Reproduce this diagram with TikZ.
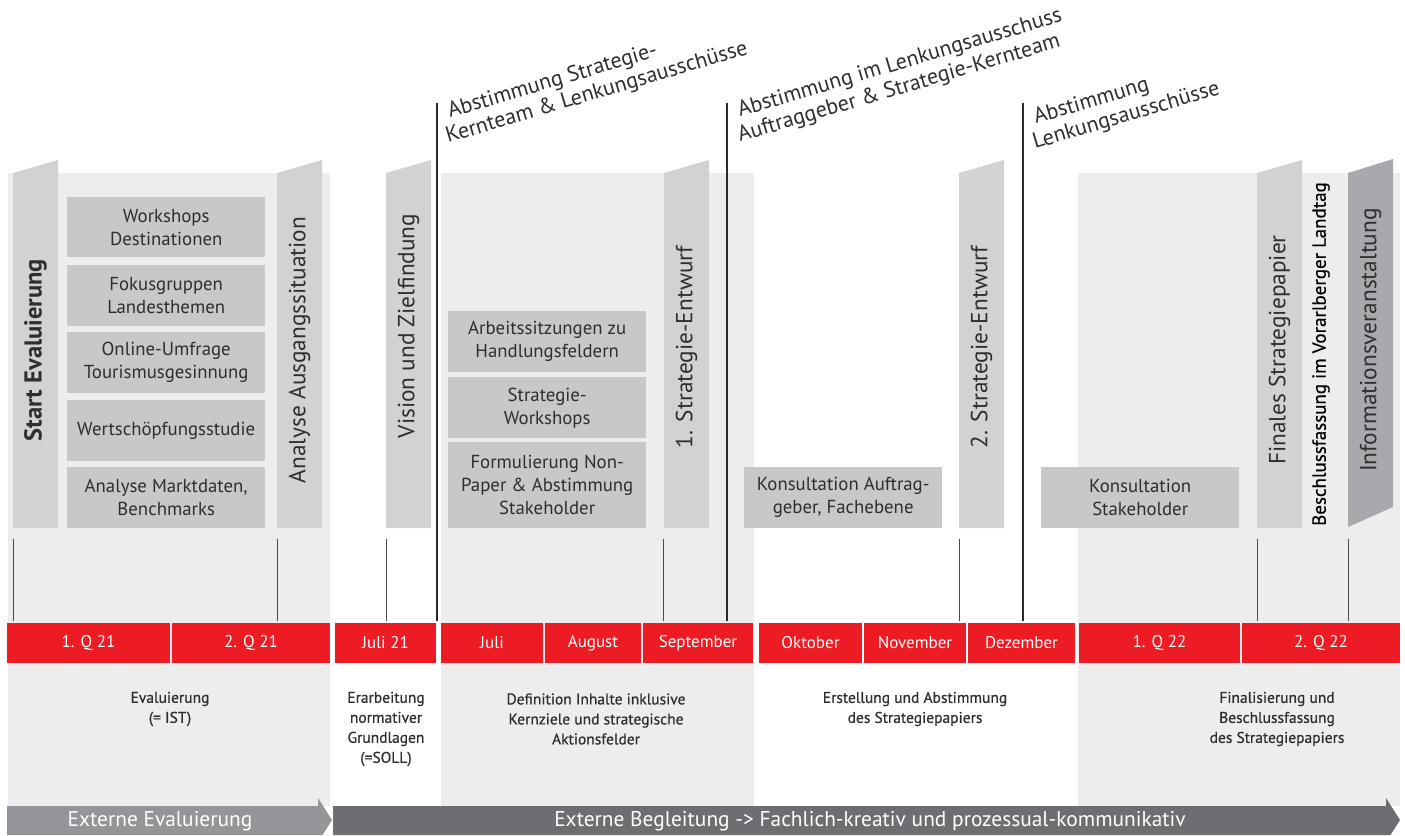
\documentclass[tikz,border=0pt]{standalone}
\usepackage{fontspec}
\setmainfont{PT Sans}
\newfontfamily\semib[FakeBold=0.6]{PT Sans}
\definecolor{lg}{HTML}{EDEDED}
\definecolor{barc}{HTML}{D1D2D4}
\definecolor{boxc}{HTML}{C7C8CA}
\definecolor{darkbar}{HTML}{A7A9AC}
\definecolor{tred}{HTML}{ED1C24}
\definecolor{txt}{HTML}{2E2E30}
\definecolor{tickc}{HTML}{4A4A4C}
\definecolor{linec}{HTML}{2A2A2C}
\definecolor{arrA}{HTML}{939598}
\definecolor{arrB}{HTML}{6D6E71}
\tikzset{
  itembox/.style={fill=boxc, minimum width=198pt, inner sep=0pt, align=center, text=txt, font=\fontsize{18.8}{23}\selectfont, anchor=north west},
  barlabel/.style={rotate=90, inner sep=0pt, text=txt, font=\fontsize{23.3}{27}\selectfont},
  tickline/.style={draw=tickc, line width=0.8pt},
  milestone/.style={draw=linec, line width=1.1pt},
  redseg/.style={fill=tred, text=white, inner sep=0pt, minimum height=40pt, font=\fontsize{17}{20}\selectfont},
  desc/.style={align=center, inner sep=0pt, text=txt, font=\semib\fontsize{15.5}{20}\selectfont},
  toplabel/.style={rotate=16.5, anchor=base west, inner sep=0pt, text=txt, font=\fontsize{22}{25}\selectfont},
  arrowtext/.style={text=white, inner sep=0pt, font=\fontsize{21.4}{24}\selectfont}
}
\newcommand\slantbar[2][barc]{\fill[#1] (#2,173) -- ++(45,-13) -- ++(0,368) -- ++(-45,0) -- cycle;}
\begin{document}
\begin{tikzpicture}[x=1pt,y=-1pt]
\useasboundingbox (0,0) rectangle (1405,835);
% light panels
\fill[lg] (8,173) rectangle (330,806);
\fill[lg] (441,173) rectangle (754,806);
\fill[lg] (1078,173) rectangle (1400,806);
% slanted bars
\slantbar{13}
\slantbar{277}
\slantbar{386}
\slantbar{664}
\slantbar{959}
\slantbar{1257}
\fill[darkbar] (1348,173) -- (1393,159) -- (1393,507) -- (1348,527) -- cycle;
% bar labels
\node[barlabel, font=\fontsize{24.5}{28}\selectfont\bfseries] (startev) at (35.5,350) {Start Evaluierung};
\node[barlabel] (analyse) at (299.5,350) {Analyse Ausgangssituation};
\node[barlabel] (vision) at (408.5,326) {Vision und Zielfindung};
\node[barlabel] (entw1) at (686.5,347) {1. Strategie-Entwurf};
\node[barlabel] (entw2) at (981.5,347) {2. Strategie-Entwurf};
\node[barlabel] (finales) at (1279.5,350) {Finales Strategiepapier};
\node[barlabel, text=black, font=\semib\fontsize{19}{22}\selectfont] (beschluss) at (1321,354) {Beschlussfassung im Vorarlberger Landtag};
\node[barlabel] (info) at (1370.5,340) {Informationsveranstaltung};
% item boxes, panel 1
\node[itembox, minimum height=60pt] (ws) at (67,197) {Workshops\\Destinationen};
\node[itembox, minimum height=61pt] (fg) at (67,265) {Fokusgruppen\\Landesthemen};
\node[itembox, minimum height=61pt] (ou) at (67,332) {Online-Umfrage\\Tourismusgesinnung};
\node[itembox, minimum height=61pt] (wss) at (67,400) {Wertschöpfungsstudie};
\node[itembox, minimum height=61pt] (am) at (67,467) {Analyse Marktdaten,\\Benchmarks};
% item boxes, panel 2
\node[itembox, minimum height=61pt] (as) at (448,311) {Arbeitssitzungen zu\\Handlungsfeldern};
\node[itembox, minimum height=61pt] (sw) at (448,377) {Strategie-\\Workshops};
\node[itembox, minimum height=86pt] (fn) at (448,442) {Formulierung Non-\\Paper \& Abstimmung\\Stakeholder};
\node[itembox, minimum height=61pt] (ka) at (744,467) {Konsultation Auftrag-\\geber, Fachebene};
\node[itembox, minimum height=61pt] (ks) at (1041,467) {Konsultation\\Stakeholder};
% ticks
\foreach \x in {13,277,386,663,959,1257,1348}
  \draw[tickline] (\x,539) -- (\x,621);
% milestone lines
\coordinate (m1t) at (437,103); \coordinate (m1b) at (437,621);
\coordinate (m2t) at (727,103); \coordinate (m2b) at (727,621);
\coordinate (m3t) at (1023,103); \coordinate (m3b) at (1023,621);
\draw[milestone] (m1t) -- (m1b);
\draw[milestone] (m2t) -- (m2b);
\draw[milestone] (m3t) -- (m3b);
% top labels
\node[toplabel] (l1a) at (450,118) {Abstimmung Strategie-};
\node[toplabel] (l1b) at (448,143) {Kernteam \& Lenkungsausschüsse};
\node[toplabel] (l2a) at (740,117) {Abstimmung im Lenkungsausschuss};
\node[toplabel] (l2b) at (740,142) {Auftraggeber \& Strategie-Kernteam};
\node[toplabel] (l3a) at (1036,124) {Abstimmung};
\node[toplabel] (l3b) at (1035,149) {Lenkungsausschüsse};
% red timeline
\node[redseg, minimum width=163pt] (q121) at (88.5,643) {1. Q 21};
\node[redseg, minimum width=158pt] (q221) at (251,643) {2. Q 21};
\node[redseg, minimum width=101pt] (jul21) at (385.5,643) {Juli 21};
\node[redseg, minimum width=102pt] (jul) at (492,643) {Juli};
\node[redseg, minimum width=96pt] (aug) at (593,643) {August};
\node[redseg, minimum width=110pt] (sep) at (698,643) {September};
\node[redseg, minimum width=103pt] (okt) at (810.5,643) {Oktober};
\node[redseg, minimum width=102pt] (nov) at (915,643) {November};
\node[redseg, minimum width=107pt] (dez) at (1021.5,643) {Dezember};
\node[redseg, minimum width=161pt] (q122) at (1159.5,643) {1. Q 22};
\node[redseg, minimum width=158pt] (q222) at (1321,643) {2. Q 22};
% descriptions
\node[desc] (d1) at (170,709) {Evaluierung\\(= IST)};
\node[desc] (d2) at (386,729) {Erarbeitung\\normativer\\Grundlagen\\(=SOLL)};
\node[desc] (d3) at (596,719) {Definition Inhalte inklusive\\Kernziele und strategische\\Aktionsfelder};
\node[desc] (d4) at (915,709) {Erstellung und Abstimmung\\des Strategiepapiers};
\node[desc] (d5) at (1277,719) {Finalisierung und\\Beschlussfassung\\des Strategiepapiers};
% bottom arrows
\fill[arrA] (7,806) -- (318,806) -- (318,798) -- (332,820) -- (322.5,835) -- (7,835) -- cycle;
\fill[arrB] (333,806) -- (1386,806) -- (1386,798) -- (1400,820) -- (1390.5,835) -- (333,835) -- cycle;
\node[arrowtext] (ext1) at (160,821) {Externe Evaluierung};
\node[arrowtext] (ext2) at (870,821) {Externe Begleitung -> Fachlich-kreativ und prozessual-kommunikativ};
\end{tikzpicture}
\end{document}
